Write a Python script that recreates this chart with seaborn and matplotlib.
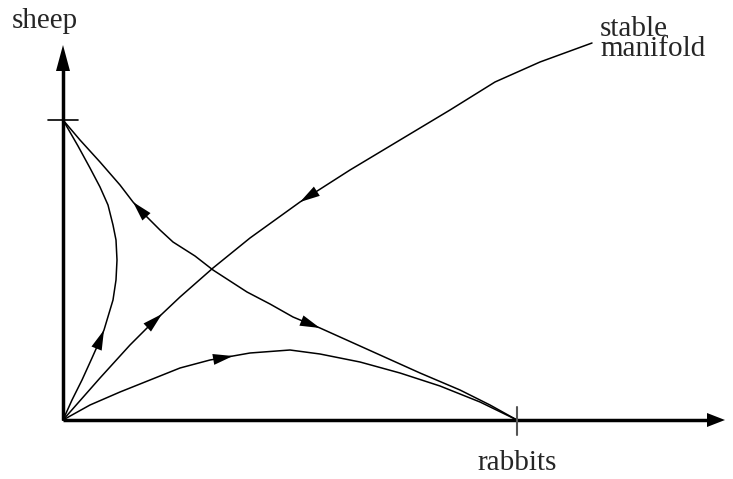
import numpy as np
import matplotlib
matplotlib.use("Agg")
import matplotlib.pyplot as plt
import seaborn as sns

sns.set_style("white")
plt.rcParams['font.family'] = ['Liberation Serif', 'DejaVu Serif']

# equilibria (rabbits, sheep)
rabbit_eq = 454
sheep_eq = 300

# trajectories (rabbits, sheep)
saddle_x = [0, 17, 37, 57, 70, 80, 97, 110, 132, 150, 167, 184, 207, 230, 242, 257, 277, 317, 357, 397, 427, 454]
saddle_y = [300, 280, 258, 235, 218, 207, 190, 178, 164, 150, 139, 128, 116, 103, 98, 92, 83, 65, 47, 30, 15, 0]

stable_x = [0, 37, 67, 87, 99, 117, 150, 187, 237, 287, 337, 387, 432, 477, 529]
stable_y = [0, 42, 75, 95, 106, 123, 152, 182, 218, 250, 280, 310, 338, 358, 377]

left_x = [0, 9, 19, 29, 37, 41, 44, 50, 53, 54, 53, 50, 45, 37, 27, 15, 0]
left_y = [0, 20, 40, 62, 80, 90, 100, 120, 140, 160, 180, 195, 215, 233, 252, 274, 300]

bottom_x = [0, 27, 57, 87, 117, 147, 170, 187, 227, 257, 297, 337, 377, 417, 454]
bottom_y = [0, 15, 28, 40, 52, 60, 64, 67, 70, 66, 58, 47, 34, 18, 0]

# arrows: (curve, node index, +1 forward / -1 backward)
arrows = [("left", 5, 1), ("stable", 4, 1), ("stable", 8, -1),
          ("saddle", 4, -1), ("saddle", 15, 1), ("bottom", 6, 1)]

curves = {
    "saddle": (saddle_x, saddle_y),
    "stable": (stable_x, stable_y),
    "left": (left_x, left_y),
    "bottom": (bottom_x, bottom_y),
}

fig = plt.figure(figsize=(7.33, 4.79), dpi=100)
ax = fig.add_axes([0, 0, 1, 1])
ax.set_xlim(-63, 670)
ax.set_ylim(-59, 420)
ax.axis("off")


def head(ax, tip, d, length, width):
    d = np.asarray(d, float)
    d = d / np.hypot(*d)
    n = np.array([-d[1], d[0]])
    tip = np.asarray(tip, float)
    base = tip - d * length
    pts = np.array([tip, base + n * width / 2, base - n * width / 2])
    ax.fill(pts[:, 0], pts[:, 1], color="black", lw=0, zorder=5)


for name, (xs, ys) in curves.items():
    sns.lineplot(x=xs, y=ys, sort=False, estimator=None, color="black", lw=1.1, ax=ax)

for name, i, sgn in arrows:
    xs, ys = curves[name]
    tip = (xs[i], ys[i])
    prev = (xs[i - sgn], ys[i - sgn])
    head(ax, tip, (tip[0] - prev[0], tip[1] - prev[1]), 20, 11)

# axes
ax.plot([0, 0], [0, 355], color="black", lw=2.5, solid_capstyle="butt")
ax.plot([0, 650], [0, 0], color="black", lw=2.5, solid_capstyle="butt")
head(ax, (0, 375), (0, 1), 26, 14)
head(ax, (662, 0), (1, 0), 18, 14)

# equilibrium ticks
ax.plot([-15, 15], [sheep_eq, sheep_eq], color="black", lw=1.2)
ax.plot([rabbit_eq, rabbit_eq], [-15, 13], color="#555555", lw=1.5)

ax.text(-18, 392, "sheep", fontsize=21, ha="center", va="baseline")
ax.text(rabbit_eq, -50, "rabbits", fontsize=21, ha="center", va="baseline")
ax.text(537, 404, "stable\nmanifold", fontsize=21, ha="left", va="top",
        linespacing=0.72)

fig.savefig("out.png", dpi=100)
